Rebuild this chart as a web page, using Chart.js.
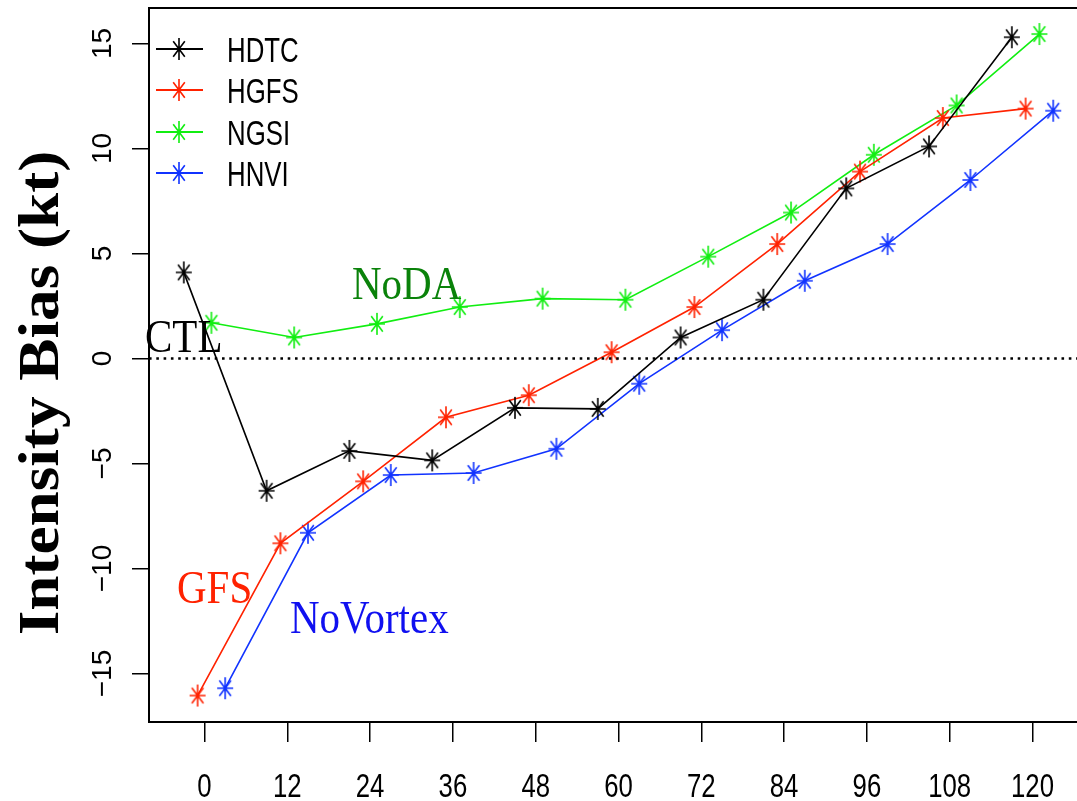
<!DOCTYPE html>
<html>
<head>
<meta charset="utf-8">
<script src="https://cdn.jsdelivr.net/npm/chart.js@4.4.1/dist/chart.umd.min.js"></script>
<style>
  html, body { margin: 0; padding: 0; background: #fff; overflow: hidden; width: 1077px; height: 801px; }
  #wrap { position: absolute; left: 0; top: 0; width: 1100px; height: 801px; }
</style>
</head>
<body>
<div id="wrap"><canvas id="c" width="1100" height="801"></canvas></div>
<script>
// ---- data ----
const leadTimes = [0, 12, 24, 36, 48, 60, 72, 84, 96, 108, 120];
const xTickLabels = [0, 12, 24, 36, 48, 60, 72, 84, 96, 108, 120];
const yTickValues = [-15, -10, -5, 0, 5, 10, 15];
const seriesNames = ['HDTC', 'HGFS', 'NGSI', 'HNVI'];
const hdtc = [4.1, -6.3, -4.4, -4.85, -2.35, -2.4, 1.0, 2.8, 8.1, 10.1, 15.3];
const hgfs = [-16.05, -8.8, -5.85, -2.8, -1.75, 0.3, 2.45, 5.45, 8.9, 11.45, 11.9];
const ngsi = [1.7, 1.0, 1.65, 2.45, 2.85, 2.8, 4.85, 6.95, 9.7, 12.05, 15.45];
const hnvi = [-15.7, -8.3, -5.55, -5.45, -4.3, -1.2, 1.35, 3.7, 5.45, 8.5, 11.8];
const dodge = [-3, -1, 1, 3];           // horizontal dodge (hours) of each series
const zeroLine = [0, 0];
const annotations = ['NoDA', 'CTL', 'GFS', 'NoVortex'];

// ---- styles ----
const colors = ['#000000', '#FF2200', '#11EE11', '#1133FF'];
const annColors = ['#0A820A', '#000000', '#FF2200', '#1010F0'];
const annPos = [[352, 299], [145, 352], [177, 603], [290, 633]]; // left, baseline (px)
const xMin = -8.04, xMax = 128.04, yMin = -17.31, yMax = 16.69;

function makeStar(color) {
  const c = document.createElement('canvas');
  c.width = 18; c.height = 24;
  const g = c.getContext('2d');
  g.strokeStyle = color;
  g.lineWidth = 1.6;
  g.beginPath();
  g.moveTo(9, 1); g.lineTo(9, 23);
  g.moveTo(1, 12); g.lineTo(17, 12);
  g.moveTo(3.2, 4.2); g.lineTo(14.8, 19.8);
  g.moveTo(14.8, 4.2); g.lineTo(3.2, 19.8);
  g.stroke();
  return c;
}
const stars = colors.map(makeStar);

const allSeries = [hdtc, hgfs, ngsi, hnvi];
const datasets = allSeries.map((vals, i) => ({
  label: seriesNames[i],
  data: vals.map((v, k) => ({ x: leadTimes[k] + dodge[i], y: v })),
  borderColor: colors[i],
  backgroundColor: colors[i],
  borderWidth: 1.6,
  pointStyle: stars[i],
  pointRadius: 10,
  pointHoverRadius: 10,
  tension: 0,
  fill: false
}));
datasets.unshift({
  label: 'zero',
  data: zeroLine.map((v, k) => ({ x: k === 0 ? xMin : xMax, y: v })),
  borderColor: '#000',
  borderWidth: 2.6,
  borderDash: [2.6, 4.7],
  pointRadius: 0,
  fill: false
});

const minus = v => (v < 0 ? '\u2212' + Math.abs(v) : String(v));

const overlay = {
  id: 'overlay',
  afterDraw(chart) {
    const { ctx, chartArea: a } = chart;
    const xs = chart.scales.x;
    ctx.save();
    // plot box
    ctx.strokeStyle = '#000';
    ctx.lineWidth = 2;
    ctx.strokeRect(a.left, a.top, a.right - a.left, a.bottom - a.top);

    // x tick labels (narrow face, placed at the scale's tick pixels)
    xs.ticks.forEach(t => {
      const px = xs.getPixelForValue(t.value);
      ctx.save();
      ctx.translate(px, 797);
      ctx.scale(0.78, 1);
      ctx.fillStyle = '#000';
      ctx.font = '33px "Liberation Sans", Arial, sans-serif';
      ctx.textAlign = 'center';
      ctx.textBaseline = 'alphabetic';
      ctx.fillText(minus(t.value), 0, 0);
      ctx.restore();
    });

    // legend
    const rows = [49, 90, 132, 173];
    seriesNames.forEach((name, i) => {
      const yy = rows[i];
      ctx.strokeStyle = colors[i];
      ctx.lineWidth = 2.2;
      ctx.setLineDash([]);
      ctx.beginPath(); ctx.moveTo(156, yy); ctx.lineTo(203, yy); ctx.stroke();
      ctx.drawImage(stars[i], 179 - stars[i].width / 2, yy - stars[i].height / 2);
      ctx.save();
      ctx.translate(227, yy + 12.5);
      ctx.scale(0.86, 1.15);
      ctx.fillStyle = '#000';
      ctx.font = '30px "Liberation Sans", Arial, sans-serif';
      ctx.textAlign = 'left';
      ctx.textBaseline = 'alphabetic';
      ctx.fillText(name, 0, 0);
      ctx.restore();
    });

    // annotations
    annotations.forEach((t, i) => {
      ctx.save();
      ctx.translate(annPos[i][0], annPos[i][1]);
      ctx.scale(1, 1.12);
      ctx.fillStyle = annColors[i];
      ctx.font = '41px "Liberation Serif", "DejaVu Serif", serif';
      ctx.textAlign = 'left';
      ctx.textBaseline = 'alphabetic';
      ctx.fillText(t, 0, 0);
      ctx.restore();
    });

    // y axis title
    ctx.save();
    ctx.translate(43, 393);
    ctx.rotate(-Math.PI / 2);
    ctx.scale(1.09, 1);
    ctx.fillStyle = '#000';
    ctx.font = 'bold 58px "Liberation Serif", "DejaVu Serif", serif';
    ctx.textAlign = 'center';
    ctx.textBaseline = 'middle';
    ctx.fillText('Intensity Bias (kt)', 0, 0);
    ctx.restore();

    ctx.restore();
  }
};

new Chart(document.getElementById('c'), {
  type: 'line',
  data: { datasets },
  options: {
    responsive: false,
    animation: false,
    devicePixelRatio: 1,
    layout: { autoPadding: false, padding: { top: 8, right: 12, left: 0, bottom: 0 } },
    plugins: { legend: { display: false }, tooltip: { enabled: false } },
    scales: {
      x: {
        type: 'linear',
        min: xMin, max: xMax,
        afterBuildTicks: s => { s.ticks = xTickLabels.map(v => ({ value: v })); },
        afterFit: s => { s.height = 79; s.paddingLeft = 0; s.paddingRight = 0; },
        grid: { display: true, drawOnChartArea: false, drawTicks: true, tickLength: 20, color: '#000', lineWidth: 1.5 },
        border: { display: false },
        ticks: { display: false, autoSkip: false }
      },
      y: {
        type: 'linear',
        min: yMin, max: yMax,
        afterBuildTicks: s => { s.ticks = yTickValues.map(v => ({ value: v })); },
        afterFit: s => { s.width = 149; s.paddingTop = 0; s.paddingBottom = 0; },
        grid: { display: true, drawOnChartArea: false, drawTicks: true, tickLength: 17, color: '#000', lineWidth: 1.5 },
        border: { display: false },
        ticks: {
          color: '#000',
          padding: 5,
          minRotation: 90, maxRotation: 90,
          crossAlign: 'center',
          autoSkip: false,
          font: { family: '"Liberation Sans", Arial, sans-serif', size: 28 },
          callback: v => minus(v)
        }
      }
    }
  },
  plugins: [overlay]
});
</script>
</body>
</html>
